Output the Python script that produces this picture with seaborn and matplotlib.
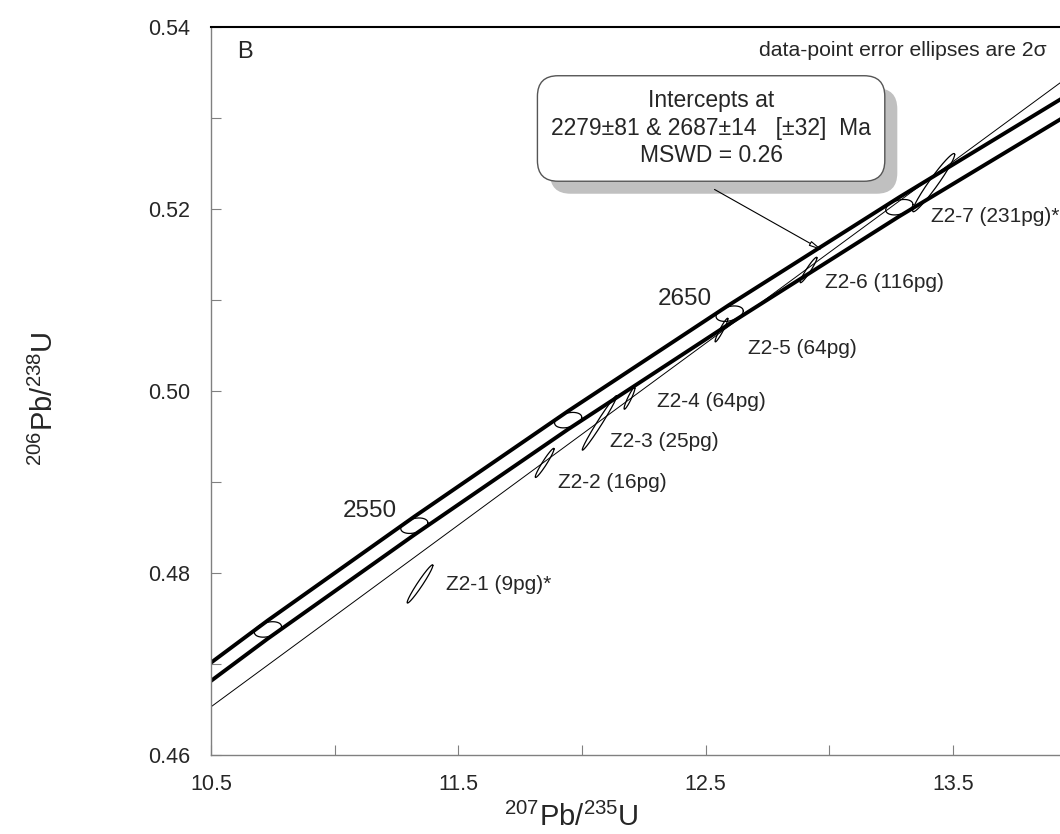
import numpy as np
import pandas as pd
import seaborn as sns
import matplotlib.pyplot as plt
from matplotlib import patheffects as pe

# Concordia band (upper / lower edge) at 50 Ma steps
conc_age = [2450, 2500, 2550, 2600, 2650, 2700, 2750]
conc_x = [10.166, 10.730, 11.322, 11.944, 12.597, 13.283, 14.004]
conc_y = [0.4624, 0.4738, 0.4852, 0.4968, 0.5085, 0.5202, 0.5320]
band_hi = [0.4634, 0.4748, 0.4862, 0.4978, 0.5095, 0.5213, 0.5332]
band_lo = [0.4614, 0.4728, 0.4842, 0.4958, 0.5074, 0.5192, 0.5310]
age_labels = {2550: '2550', 2650: '2650'}

# Discordia (thin line)
disc_x = [10.5, 14.0]
disc_y = [0.4653, 0.5352]

# Zircon fractions: centre, half-extent in x / y, error correlation
samples = ['Z2-1 (9pg)*', 'Z2-2 (16pg)', 'Z2-3 (25pg)', 'Z2-4 (64pg)',
           'Z2-5 (64pg)', 'Z2-6 (116pg)', 'Z2-7 (231pg)*']
pb207_u235 = [11.345, 11.849, 12.071, 12.192, 12.564, 12.916, 13.422]
pb206_u238 = [0.4788, 0.4921, 0.4965, 0.4992, 0.5067, 0.5133, 0.5229]
err_x = [0.052, 0.038, 0.070, 0.022, 0.026, 0.034, 0.085]
err_y = [0.0021, 0.0016, 0.0030, 0.0012, 0.0013, 0.0014, 0.0032]
err_rho = [0.97, 0.96, 0.985, 0.93, 0.95, 0.95, 0.965]

label_x = [11.450, 11.903, 12.113, 12.303, 12.671, 12.983, 13.412]
label_y = [0.4787, 0.4899, 0.4944, 0.4989, 0.5047, 0.5119, 0.5192]


def ellipse_xy(cx, cy, ex, ey, rho, n=200):
    t = np.linspace(0, 2 * np.pi, n)
    x = cx + ex * np.cos(t)
    y = cy + ey * (rho * np.cos(t) + np.sqrt(1 - rho ** 2) * np.sin(t))
    return x, y


sns.set_style('ticks')
plt.rcParams['font.family'] = ['Liberation Sans', 'DejaVu Sans']
plt.rcParams['mathtext.default'] = 'regular'

fig = plt.figure(figsize=(10.6, 8.34), dpi=100)
ax = fig.add_axes([0.1991, 0.0947, 0.8166, 0.8729])

# concordia band
band = pd.DataFrame({
    'x': conc_x + conc_x,
    'y': band_hi + band_lo,
    'edge': ['hi'] * len(conc_x) + ['lo'] * len(conc_x),
})
sns.lineplot(data=band, x='x', y='y', units='edge', estimator=None, sort=False,
             color='black', lw=2.8, ax=ax, legend=False)

# discordia
sns.lineplot(x=disc_x, y=disc_y, color='black', lw=0.7, ax=ax)

# age markers on concordia
for age, cx, cy in zip(conc_age, conc_x, conc_y):
    ex, ey = ellipse_xy(cx, cy, 0.055, 0.00085, 0.35)
    ax.plot(ex, ey, color='black', lw=0.9)
    if age in age_labels:
        ax.text(cx - 0.07, cy + 0.0004, age_labels[age], fontsize=17.5,
                ha='right', va='bottom')

# data-point ellipses
for i, name in enumerate(samples):
    ex, ey = ellipse_xy(pb207_u235[i], pb206_u238[i], err_x[i], err_y[i], err_rho[i])
    ax.plot(ex, ey, color='black', lw=0.9)
    ax.text(label_x[i], label_y[i], name, fontsize=15, ha='left', va='center')

# intercept box with shadow
box_txt = ax.text(12.522, 0.52885,
                  'Intercepts at\n2279\u00b181 & 2687\u00b114   [\u00b132]  Ma\nMSWD = 0.26',
                  fontsize=16.5, ha='center', va='center', linespacing=1.25,
                  bbox=dict(boxstyle='round,pad=0.6,rounding_size=0.9',
                            fc='white', ec='#555555', lw=1.0))
box_txt.get_bbox_patch().set_path_effects([
    pe.SimplePatchShadow(offset=(9, -9), shadow_rgbFace='#c0c0c0', alpha=1.0),
    pe.Normal()])
ax.annotate('', xy=(12.983, 0.5153), xytext=(12.526, 0.5223),
            arrowprops=dict(arrowstyle='-|>,head_length=0.8,head_width=0.15',
                            color='black', lw=0.8, fc='white'))

ax.text(0.030, 0.9657, 'B', transform=ax.transAxes, fontsize=17, va='center')
ax.text(13.880, 0.53747, 'data-point error ellipses are 2\u03c3', fontsize=15.2,
        ha='right', va='center')

ax.set_xlim(10.5, 14.0)
ax.set_ylim(0.46, 0.54)
xt = np.arange(10.5, 14.01, 0.5)
ax.set_xticks(xt)
ax.set_xticklabels(['%.1f' % v if i % 2 == 0 else '' for i, v in enumerate(xt)])
yt = np.arange(0.46, 0.5401, 0.01)
ax.set_yticks(yt)
ax.set_yticklabels(['%.2f' % v if i % 2 == 0 else '' for i, v in enumerate(yt)])
ax.tick_params(direction='in', length=7, width=0.8, color='#808080',
               labelsize=15.5)
ax.tick_params(axis='y', pad=15)
ax.tick_params(axis='x', pad=14)
for s in ['left', 'bottom']:
    ax.spines[s].set_color('#808080')
    ax.spines[s].set_linewidth(1.0)
ax.spines['top'].set_color('black')
ax.spines['top'].set_linewidth(1.5)

ax.set_xlabel('$^{207}$Pb/$^{235}$U', fontsize=21,
              family=['Liberation Sans Narrow', 'Liberation Sans'])
ax.set_ylabel('$^{206}$Pb/$^{238}$U', fontsize=21,
              family=['Liberation Sans Narrow', 'Liberation Sans'])
ax.xaxis.set_label_coords(0.416, -0.066)
ax.yaxis.set_label_coords(-0.176, 0.49)

fig.savefig('out.png', dpi=100)
